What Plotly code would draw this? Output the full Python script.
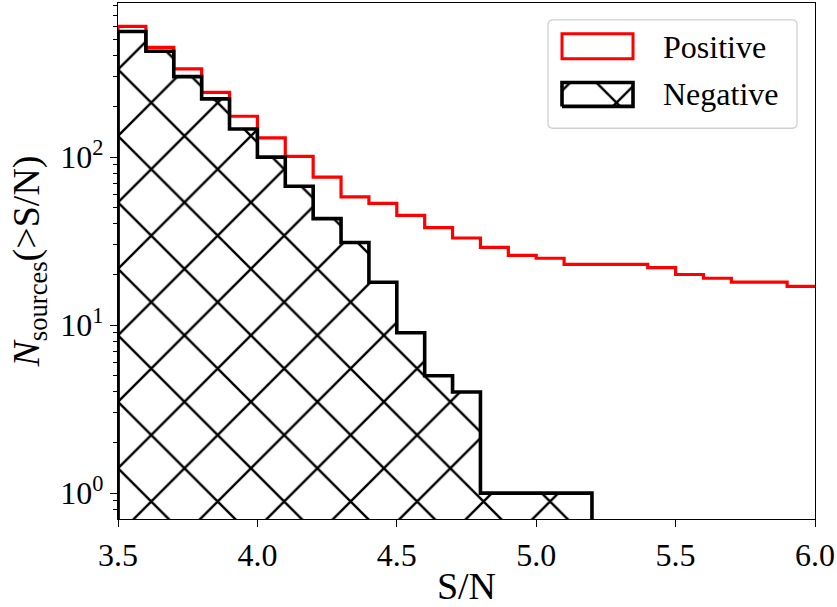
import plotly.graph_objects as go

# ---- data (cumulative counts N(>S/N), bins of width 0.1 starting at 3.5) ----
bin_edges = [round(3.5 + 0.1 * i, 1) for i in range(26)]
positive_counts = [600, 450, 335, 243, 175, 130, 101, 76, 58, 53, 45, 38, 33, 29,
                   26, 25, 23, 23, 23, 22, 20, 19, 18, 18, 17]
negative_counts = [559, 426, 301, 222, 147, 100, 67, 43, 31, 18, 9, 5, 4, 1, 1, 1, 1]

x_ticks = [3.5, 4.0, 4.5, 5.0, 5.5, 6.0]
y_ticks = [1, 10, 100]
y_ticktext = ["10<sup>0</sup>", "10<sup>1</sup>", "10<sup>2</sup>"]
y_minor = [m * d for d in (0.1, 1, 10, 100) for m in range(2, 10)]

FLOOR = 0.1  # below visible range, used to close step outlines

FONT = "Liberation Serif"

def step_xy(counts, close_down):
    n = len(counts)
    xs = [bin_edges[0]] + bin_edges[:n] + [bin_edges[n]]
    ys = [FLOOR] + counts + ([FLOOR] if close_down else [counts[-1]])
    return xs, ys

px_, py_ = step_xy(positive_counts, close_down=False)
nx_, ny_ = step_xy(negative_counts, close_down=True)

HATCH = dict(shape="x", size=47, solidity=0.1, fgcolor="black",
             bgcolor="rgba(0,0,0,0)", fgopacity=1)

fig = go.Figure()

fig.add_trace(go.Scatter(x=px_, y=py_, mode="lines", line_shape="hv",
                         line=dict(color="#ff0000", width=3.2),
                         showlegend=False, hoverinfo="skip"))
fig.add_trace(go.Scatter(x=nx_, y=ny_, mode="lines", line_shape="hv",
                         fill="toself", fillcolor="rgba(0,0,0,0)",
                         fillpattern=HATCH,
                         line=dict(color="black", width=3.6),
                         showlegend=False, hoverinfo="skip"))

# ---- custom legend (plot-area paper coordinates) ----
W, H = 697.0, 519.0
def pxx(p):
    return (p - 118) / W
def pyy(p):
    return (521 - p) / H

bx0, bx1, by0, by1 = pxx(548), pxx(797), pyy(128), pyy(19)
rx, ry = 5 / W, 5 / H
box_path = (f"M{bx0+rx},{by0} L{bx1-rx},{by0} Q{bx1},{by0} {bx1},{by0+ry} "
            f"L{bx1},{by1-ry} Q{bx1},{by1} {bx1-rx},{by1} L{bx0+rx},{by1} "
            f"Q{bx0},{by1} {bx0},{by1-ry} L{bx0},{by0+ry} Q{bx0},{by0} {bx0+rx},{by0} Z")

shapes = [
    dict(type="path", path=box_path, xref="paper", yref="paper",
         line=dict(color="#d0d0d0", width=1.3), fillcolor="white", layer="below"),
    dict(type="rect", xref="paper", yref="paper",
         x0=pxx(562), x1=pxx(633), y0=pyy(58), y1=pyy(33),
         line=dict(color="#ff0000", width=3), fillcolor="white", layer="above"),
]

sx0, sx1, sy0, sy1 = pxx(562), pxx(633), pyy(106), pyy(82)
fig.add_trace(go.Scatter(x=[sx0, sx1, sx1, sx0, sx0], y=[sy0, sy0, sy1, sy1, sy0],
                         xaxis="x2", yaxis="y2", mode="lines",
                         fill="toself", fillcolor="rgba(0,0,0,0)",
                         fillpattern=HATCH,
                         line=dict(color="black", width=3.6),
                         showlegend=False, hoverinfo="skip"))

annotations = [
    dict(text="Positive", x=pxx(661), y=pyy(46), xref="paper", yref="paper",
         xanchor="left", yanchor="middle", showarrow=False,
         font=dict(family=FONT, size=32, color="black")),
    dict(text="Negative", x=pxx(661), y=pyy(94), xref="paper", yref="paper",
         xanchor="left", yanchor="middle", showarrow=False,
         font=dict(family=FONT, size=32, color="black")),
]

fig.update_layout(
    width=837, height=607,
    margin=dict(l=118, r=22, t=2, b=86),
    paper_bgcolor="white", plot_bgcolor="rgba(0,0,0,0)",
    font=dict(family=FONT, size=32, color="black"),
    showlegend=False,
    shapes=shapes, annotations=annotations,
    xaxis=dict(range=[3.5, 6.0], tickvals=x_ticks, tickformat=".1f",
               ticks="outside", ticklen=7, tickwidth=1.3, tickcolor="black",
               showline=True, linecolor="black", linewidth=1.3, mirror=True,
               showgrid=False, zeroline=False,
               title=dict(text="S/N", standoff=6),
               tickfont=dict(size=32)),
    yaxis=dict(type="log", range=[-0.154, 2.917], tickvals=y_ticks, ticktext=y_ticktext,
               ticks="outside", ticklen=7, tickwidth=1.3, tickcolor="black",
               showline=True, linecolor="black", linewidth=1.3, mirror=True,
               showgrid=False, zeroline=False,
               minor=dict(tickvals=y_minor, ticks="outside", ticklen=4,
                          tickwidth=1, tickcolor="black", showgrid=False),
               title=dict(text="<i>N</i><sub>sources</sub>(>S/N)", standoff=8),
               tickfont=dict(size=32)),
    xaxis2=dict(overlaying="x", anchor="y2", range=[0, 1], visible=False,
                fixedrange=True),
    yaxis2=dict(overlaying="y", anchor="x2", range=[0, 1], visible=False,
                fixedrange=True),
)

fig.write_html("out.html")
